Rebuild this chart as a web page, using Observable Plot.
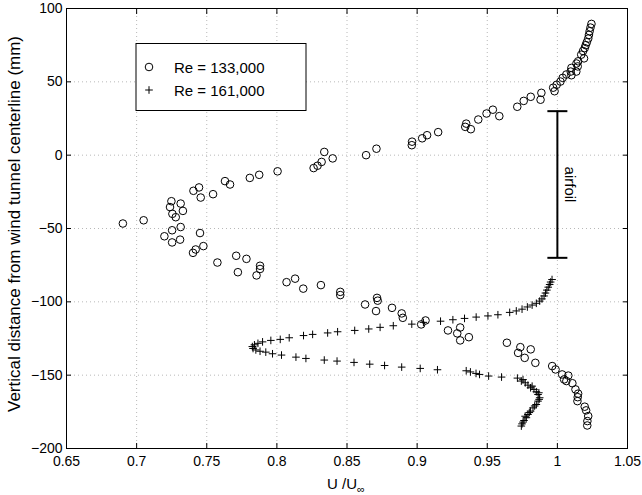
<!DOCTYPE html>
<html><head><meta charset="utf-8">
<script src="https://cdn.jsdelivr.net/npm/d3@7"></script>
<script src="https://cdn.jsdelivr.net/npm/@observablehq/plot@0.6"></script>
<style>body{margin:0;background:#fff;} svg{display:block;}</style>
</head><body><div id="chart"></div>
<script>
// ---- Data ----
const xTicks = [0.65, 0.7, 0.75, 0.8, 0.85, 0.9, 0.95, 1, 1.05];
const xTickLabels = ["0.65", "0.7", "0.75", "0.8", "0.85", "0.9", "0.95", "1", "1.05"];
const yTicks = [-200, -150, -100, -50, 0, 50, 100];
const seriesNames = ["Re = 133,000", "Re = 161,000"];

const re133U = [1.0243,1.0236,1.023,1.0225,1.022,1.021,1.0202,1.0195,1.0183,1.017,1.019,1.0148,1.0136,1.0145,1.01,1.0135,1.0095,1.01,1.0064,1.0038,1.0022,0.9995,0.997,0.998,
0.9886,0.988,0.981,0.976,0.9714,0.954,0.9495,0.9586,0.9436,0.935,0.9343,0.9383,0.915,0.9071,0.9036,0.8964,0.8962,0.871,0.8636,0.8338,0.8398,0.8319,0.829,0.8262,0.8005,0.7874,0.7807,0.763,0.7666,0.7445,0.7405,0.7545,0.7457,0.7248,0.7314,0.7238,0.733,0.7255,0.7279,0.705,0.6902,0.7314,0.7253,0.7198,0.7452,0.731,0.7253,0.7476,0.7421,0.7402,0.7576,0.771,0.7783,0.7722,0.788,0.788,0.7855,0.8069,0.813,0.8188,0.8314,0.8452,0.8452,0.8629,0.8714,0.8719,0.8707,0.8821,0.889,0.8898,0.9029,0.906,0.922,0.9307,0.9286,0.9307,0.9369,0.964,0.9736,0.972,0.981,0.9767,0.9843,0.9963,0.9987,1.0078,1.0034,1.0048,1.0064,1.0107,1.0129,1.0148,1.0145,1.0143,1.0195,1.0205,1.022,1.0214,1.0213];
const re133Y = [89.5,87,84.5,82,79.5,77,75,73,71,68.5,66,64,62.5,60.5,59.5,57,57,54.5,55,52.7,50.2,48,46,43.6,
42.5,37.8,39.8,37,33,31,28.4,26.6,24.3,21.5,19.3,17.7,15.7,13.6,11.5,9.2,6.8,4.4,0,2.2,-2.2,-4.6,-7.2,-8.8,-11,-13.4,-15.5,-17.7,-20,-22,-24.3,-26.6,-28.9,-31.4,-33,-35.4,-38,-40,-42.3,-44.4,-46.6,-49,-51.2,-55.3,-53.1,-57.6,-59.5,-62,-64.3,-66.6,-73.2,-68.6,-70.7,-79.8,-75.4,-77.6,-82,-86.6,-84.2,-91,-88.6,-93.2,-95.4,-101.8,-97.3,-99.2,-106.3,-104.1,-107.9,-110.9,-115.4,-112.7,-119.5,-117.5,-121.5,-126.3,-124.1,-127.9,-130.9,-134.8,-132.4,-138.2,-141.6,-143.8,-146.1,-150.3,-149.5,-152.9,-154,-155.5,-159.7,-162.6,-165,-167.7,-171.5,-174,-177.9,-181.3,-184.3];

const re161U = [0.9962,0.9952,0.9945,0.9935,0.9925,0.9915,0.9905,0.989,0.9874,0.985,0.982,0.9786,0.9748,0.9707,0.966,0.9576,0.9505,0.9421,0.9338,0.9255,0.9167,0.9045,0.8962,0.883,0.8736,0.8655,0.8555,0.8433,0.8362,0.8255,0.819,0.8088,0.8024,0.7957,0.7898,0.7865,0.784,0.7825,0.783,0.785,0.788,
0.7921,0.7969,0.8033,0.8136,0.8207,0.8338,0.8429,0.855,0.8662,0.8768,0.889,0.9022,0.9145,0.935,0.938,0.942,0.9445,0.951,0.9602,0.9715,0.9743,0.9755,0.9771,0.979,0.982,0.9809,0.9833,0.985,0.9868,0.9862,0.9874,0.987,0.9862,0.985,0.9838,0.9826,0.9809,0.98,0.979,0.977,0.9779,0.9762,0.9755,0.9748,0.9743];
const re161Y = [-84.8,-86.5,-88.2,-90,-92,-94,-96,-98,-99.5,-101,-102.2,-103.5,-105,-106.2,-107.2,-108.8,-109.6,-110.4,-111.3,-112.2,-113.2,-114,-115.2,-116.3,-117.4,-118.5,-119.5,-120.4,-121.2,-122.2,-123,-124.5,-125.6,-126.3,-127.3,-128.3,-129.3,-130.5,-131.8,-132.8,-133.7,
-134.3,-135.4,-136.3,-137.7,-138.6,-139.7,-140.4,-141.3,-142.5,-143.4,-144.5,-145.4,-146.3,-147,-147.8,-148.8,-149.5,-150.6,-151.3,-152,-154,-153,-155.2,-156.8,-157.5,-158.6,-159.7,-161.3,-162,-163.2,-165.4,-166.5,-167.7,-170,-171,-172.3,-174.5,-175.5,-176.8,-178,-179,-180.9,-182,-183.2,-184.7];

const airfoilX = [1];
const airfoilTop = [30];
const airfoilBottom = [-70];
const airfoilLabel = "airfoil";
const xLabelMain = "U /U";
const xLabelSub = "\u221E";
const yLabel = "Vertical distance from wind tunnel centerline (mm)";

// ---- Build tables ----
const d133 = re133U.map((u, i) => ({u, y: re133Y[i]}));
const d161 = re161U.map((u, i) => ({u, y: re161Y[i]}));
const airfoil = airfoilX.map((x, i) => ({x, top: airfoilTop[i], bottom: airfoilBottom[i], mid: (airfoilTop[i] + airfoilBottom[i]) / 2}));

const FONT = "'Liberation Sans', Arial, Helvetica, sans-serif";
const plusSym = {draw(ctx, size) { const r = Math.sqrt(size / Math.PI); ctx.moveTo(-r, 0); ctx.lineTo(r, 0); ctx.moveTo(0, -r); ctx.lineTo(0, r); }};
const capSym = {draw(ctx, size) { const r = Math.sqrt(size / Math.PI); ctx.moveTo(-r, 0); ctx.lineTo(r, 0); }};

const gridX = xTicks.slice(1, -1), gridY = yTicks.slice(1, -1);

const chart = Plot.plot({
  width: 642, height: 495,
  marginLeft: 66, marginRight: 15, marginTop: 8, marginBottom: 47,
  style: {fontFamily: FONT, fontSize: "14px", color: "black", background: "white"},
  x: {domain: [0.65, 1.05]},
  y: {domain: [-200, 100]},
  marks: [
    Plot.gridX(gridX, {stroke: "#888", strokeOpacity: 0.6, strokeDasharray: "1,3"}),
    Plot.gridY(gridY, {stroke: "#888", strokeOpacity: 0.6, strokeDasharray: "1,3"}),
    Plot.axisX(xTicks, {tickSize: 0, tickPadding: 8, tickFormat: (d, i) => xTickLabels[i], label: null}),
    Plot.axisY(yTicks, {tickSize: 0, tickPadding: 4, label: null}),
    Plot.axisX(xTicks, {anchor: "bottom", tickSize: 5, dy: -5, text: null, label: null}),
    Plot.axisX(xTicks, {anchor: "top", tickSize: 5, dy: 5, text: null, label: null}),
    Plot.axisY(yTicks, {anchor: "left", tickSize: 5, dx: 5, text: null, label: null}),
    Plot.axisY(yTicks, {anchor: "right", tickSize: 5, dx: -5, text: null, label: null}),
    Plot.frame({stroke: "black", strokeWidth: 1}),
    Plot.ruleX(airfoil, {x: "x", y1: "bottom", y2: "top", stroke: "black", strokeWidth: 2}),
    Plot.dot(airfoil, {x: "x", y: "top", symbol: capSym, r: 10, stroke: "black", strokeWidth: 2}),
    Plot.dot(airfoil, {x: "x", y: "bottom", symbol: capSym, r: 10, stroke: "black", strokeWidth: 2}),
    Plot.text(airfoil, {x: "x", y: "mid", text: () => airfoilLabel, rotate: 90, dx: 12, fontSize: 15, fill: "black"}),
    Plot.dot(d133, {x: "u", y: "y", r: 3.8, stroke: "black", strokeWidth: 1, fill: "none"}),
    Plot.dot(d161, {x: "u", y: "y", symbol: plusSym, r: 3.8, stroke: "black", strokeWidth: 1})
  ]
});

const svg = d3.select(chart);
// x label with subscript
const xl = svg.append("text").attr("x", 346).attr("y", 489).attr("text-anchor", "middle")
  .attr("font-family", FONT).attr("font-size", 15).attr("fill", "black");
xl.append("tspan").text(xLabelMain);
xl.append("tspan").attr("dy", 4).attr("font-size", 11).text(xLabelSub);
// y label
svg.append("text").attr("transform", "translate(20,224) rotate(-90)").attr("text-anchor", "middle")
  .attr("font-family", FONT).attr("font-size", 17).attr("fill", "black").text(yLabel);
// legend
const lg = svg.append("g").attr("font-family", FONT).attr("font-size", 15).attr("text-anchor", "start");
lg.append("rect").attr("x", 136).attr("y", 43.5).attr("width", 170).attr("height", 67)
  .attr("fill", "white").attr("stroke", "black").attr("stroke-width", 1);
lg.append("circle").attr("cx", 149).attr("cy", 67).attr("r", 3.8).attr("fill", "none").attr("stroke", "black");
lg.append("path").attr("d", "M145.2,90H152.8M149,86.2V93.8").attr("stroke", "black").attr("fill", "none");
lg.append("text").attr("x", 174).attr("y", 73).attr("text-anchor", "start").text(seriesNames[0]);
lg.append("text").attr("x", 174).attr("y", 96).attr("text-anchor", "start").text(seriesNames[1]);

document.getElementById("chart").appendChild(chart);
</script>
</body></html>
